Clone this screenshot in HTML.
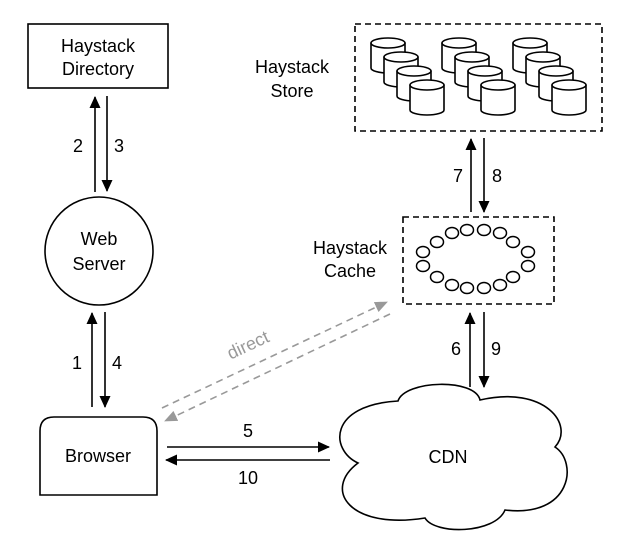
<!DOCTYPE html>
<html><head><meta charset="utf-8"><style>html,body{margin:0;padding:0;background:#fff}svg{display:block}text{font-family:"Liberation Sans",sans-serif;font-size:18px;fill:#000}</style></head><body>
<svg width="632" height="546" viewBox="0 0 632 546" xmlns="http://www.w3.org/2000/svg">
<defs>
<marker id="ab" markerWidth="12" markerHeight="12" refX="11" refY="6" orient="auto" markerUnits="userSpaceOnUse"><path d="M0,0.5 L12,6 L0,11.5 z" fill="#000"/></marker>
<marker id="ag" markerWidth="13" markerHeight="11" refX="12" refY="5.5" orient="auto" markerUnits="userSpaceOnUse"><path d="M0,0 L13,5.5 L0,11 z" fill="#999"/></marker>
<g id="cyl"><path d="M0,5 L0,30 A17,5 0 0 0 34,30 L34,5" fill="#fff" stroke="#000" stroke-width="1.6"/><ellipse cx="17" cy="5" rx="17" ry="5" fill="#fff" stroke="#000" stroke-width="1.6"/></g>
<g id="grp"><use href="#cyl" x="0" y="0"/><use href="#cyl" x="13" y="14"/><use href="#cyl" x="26" y="28"/><use href="#cyl" x="39" y="42"/></g>
</defs>
<rect x="28" y="24" width="140" height="64" fill="#fff" stroke="#000" stroke-width="1.6"/>
<text x="98" y="52" text-anchor="middle">Haystack</text>
<text x="98" y="75" text-anchor="middle">Directory</text>
<line x1="95" y1="192" x2="95" y2="97" stroke="#000" stroke-width="1.6" marker-end="url(#ab)"/>
<line x1="107" y1="96" x2="107" y2="191" stroke="#000" stroke-width="1.6" marker-end="url(#ab)"/>
<text x="78" y="152" text-anchor="middle">2</text>
<text x="119" y="152" text-anchor="middle">3</text>
<circle cx="99" cy="251" r="54" fill="#fff" stroke="#000" stroke-width="1.6"/>
<text x="99" y="245" text-anchor="middle">Web</text>
<text x="99" y="270" text-anchor="middle">Server</text>
<line x1="92" y1="407" x2="92" y2="313" stroke="#000" stroke-width="1.6" marker-end="url(#ab)"/>
<line x1="105" y1="312" x2="105" y2="407" stroke="#000" stroke-width="1.6" marker-end="url(#ab)"/>
<text x="77" y="369" text-anchor="middle">1</text>
<text x="117" y="369" text-anchor="middle">4</text>
<path d="M40,495 L40,431 Q40,417 54,417 L143,417 Q157,417 157,431 L157,495 Z" fill="#fff" stroke="#000" stroke-width="1.6"/>
<text x="98" y="462" text-anchor="middle">Browser</text>
<line x1="167" y1="447" x2="329" y2="447" stroke="#000" stroke-width="1.6" marker-end="url(#ab)"/>
<line x1="330" y1="460" x2="166" y2="460" stroke="#000" stroke-width="1.6" marker-end="url(#ab)"/>
<text x="248" y="437" text-anchor="middle">5</text>
<text x="248" y="484" text-anchor="middle">10</text>
<line x1="162" y1="408" x2="387" y2="302" stroke="#999" stroke-width="1.6" stroke-dasharray="7,5" marker-end="url(#ag)"/>
<line x1="390" y1="314" x2="165" y2="421" stroke="#999" stroke-width="1.6" stroke-dasharray="7,5" marker-end="url(#ag)"/>
<text x="248" y="351" text-anchor="middle" transform="rotate(-25 248 345)" style="fill:#999">direct</text>
<rect x="355" y="24" width="247" height="107" fill="none" stroke="#000" stroke-width="1.6" stroke-dasharray="6,4"/>
<use href="#grp" x="371" y="38"/><use href="#grp" x="442" y="38"/><use href="#grp" x="513" y="38"/>
<text x="292" y="73" text-anchor="middle">Haystack</text>
<text x="292" y="97" text-anchor="middle">Store</text>
<line x1="471" y1="212" x2="471" y2="139" stroke="#000" stroke-width="1.6" marker-end="url(#ab)"/>
<line x1="484" y1="138" x2="484" y2="212" stroke="#000" stroke-width="1.6" marker-end="url(#ab)"/>
<text x="458" y="182" text-anchor="middle">7</text>
<text x="497" y="182" text-anchor="middle">8</text>
<rect x="403" y="217" width="151" height="87" fill="none" stroke="#000" stroke-width="1.6" stroke-dasharray="6,4"/>
<g fill="#fff" stroke="#000" stroke-width="1.5">
<ellipse cx="452" cy="233" rx="6.5" ry="5.5"/><ellipse cx="467" cy="230" rx="6.5" ry="5.5"/><ellipse cx="484" cy="230" rx="6.5" ry="5.5"/><ellipse cx="500" cy="233" rx="6.5" ry="5.5"/>
<ellipse cx="437" cy="242" rx="6.5" ry="5.5"/><ellipse cx="513" cy="242" rx="6.5" ry="5.5"/>
<ellipse cx="423" cy="252" rx="6.5" ry="5.5"/><ellipse cx="528" cy="252" rx="6.5" ry="5.5"/>
<ellipse cx="423" cy="266" rx="6.5" ry="5.5"/><ellipse cx="528" cy="266" rx="6.5" ry="5.5"/>
<ellipse cx="437" cy="277" rx="6.5" ry="5.5"/><ellipse cx="513" cy="277" rx="6.5" ry="5.5"/>
<ellipse cx="452" cy="285" rx="6.5" ry="5.5"/><ellipse cx="467" cy="288" rx="6.5" ry="5.5"/><ellipse cx="484" cy="288" rx="6.5" ry="5.5"/><ellipse cx="500" cy="285" rx="6.5" ry="5.5"/>
</g>
<text x="350" y="254" text-anchor="middle">Haystack</text>
<text x="350" y="277" text-anchor="middle">Cache</text>
<line x1="470" y1="387" x2="470" y2="313" stroke="#000" stroke-width="1.6" marker-end="url(#ab)"/>
<line x1="484" y1="312" x2="484" y2="387" stroke="#000" stroke-width="1.6" marker-end="url(#ab)"/>
<text x="456" y="355" text-anchor="middle">6</text>
<text x="496" y="355" text-anchor="middle">9</text>
<path d="M358,463 C330,450 328,405 398,401 C405,380 475,378 480,400 C545,385 575,425 555,447 C578,462 572,518 505,510 C495,534 435,535 425,518 C350,530 322,490 358,463 Z" fill="#fff" stroke="#000" stroke-width="1.6"/>
<text x="448" y="463" text-anchor="middle">CDN</text>
</svg>
</body></html>
